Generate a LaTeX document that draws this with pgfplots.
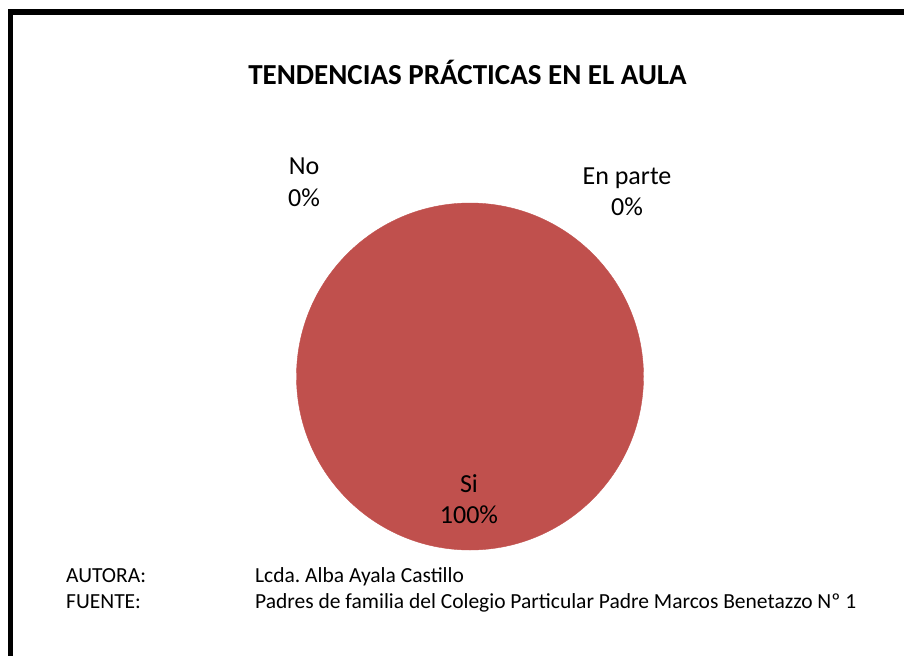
\documentclass[border=0pt]{standalone}
\usepackage{pgfplots}
\pgfplotsset{compat=1.18}
\usepackage{fontspec}
\setmainfont{Carlito}
\frenchspacing
\definecolor{pie}{HTML}{C0504D}
\begin{document}
\begin{tikzpicture}
\begin{axis}[scale only axis, width=904bp, height=656bp,
  xmin=0, xmax=904, ymin=0, ymax=656, y dir=reverse, hide axis, clip=false]
% Si = 100 %, No = 0 %, En parte = 0 %  -> a full circle
\addplot[only marks, mark=*, mark size=173.5bp,
  mark options={draw=pie, fill=pie}] coordinates {(470,376.5)};
\node[anchor=base, font=\fontsize{29bp}{34bp}\selectfont\bfseries] at (axis cs:467.5,85) {TENDENCIAS PRÁCTICAS EN EL AULA};
\node[anchor=base, font=\fontsize{26bp}{30bp}\selectfont] at (axis cs:304,174) {No};
\node[anchor=base, font=\fontsize{26bp}{30bp}\selectfont] at (axis cs:304,206) {0\%};
\node[anchor=base, font=\fontsize{26bp}{30bp}\selectfont] at (axis cs:627,184.3) {En parte};
\node[anchor=base, font=\fontsize{26bp}{30bp}\selectfont] at (axis cs:627,215) {0\%};
\coordinate (si) at (axis cs:469,492.3);
\coordinate (sip) at (axis cs:469,524);
\node[anchor=base west, inner sep=0pt, font=\fontsize{21.5bp}{24bp}\selectfont] at (axis cs:66,582.3) {AUTORA:};
\node[anchor=base west, inner sep=0pt, font=\fontsize{21.5bp}{24bp}\selectfont] at (axis cs:66,608.3) {FUENTE:};
\node[anchor=base west, inner sep=0pt, font=\fontsize{21.5bp}{24bp}\selectfont] at (axis cs:255,582.3) {Lcda. Alba Ayala Castillo};
\node[anchor=base west, inner sep=0pt, font=\fontsize{21.5bp}{24bp}\selectfont] at (axis cs:255,608.3) {Padres de familia del Colegio Particular Padre Marcos Benetazzo Nº 1};
\draw[line width=5.5bp, line cap=rect] (axis cs:10.5,700) -- (axis cs:10.5,12) -- (axis cs:950,12);
\end{axis}
\node[anchor=base, font=\fontsize{26bp}{30bp}\selectfont] at (si) {Si};
\node[anchor=base, font=\fontsize{26bp}{30bp}\selectfont] at (sip) {100\%};
\pgfresetboundingbox
\useasboundingbox (0,0) rectangle (904bp,656bp);
\end{tikzpicture}
\end{document}
